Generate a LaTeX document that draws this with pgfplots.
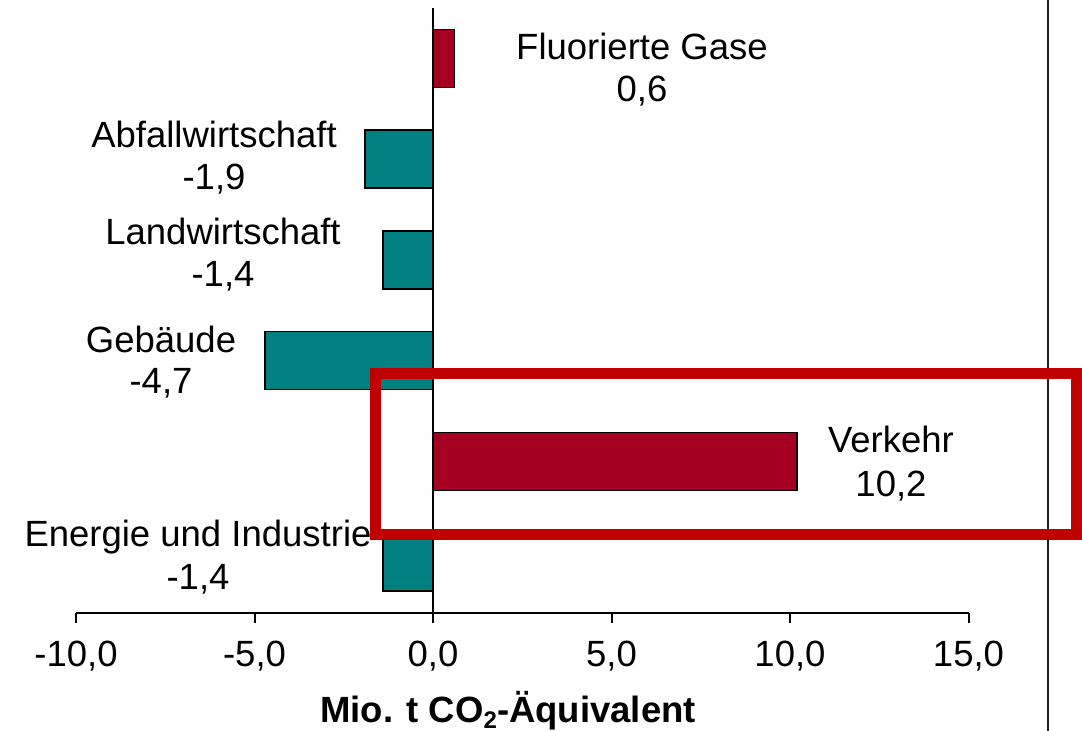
\documentclass[border=0pt]{standalone}
\usepackage{fontspec}
\setmainfont{Liberation Sans}
\usepackage{pgfplots}
\pgfplotsset{compat=1.18}
\definecolor{barteal}{RGB}{0,128,128}
\definecolor{barred}{RGB}{165,0,33}
\definecolor{boxred}{RGB}{192,0,0}
\definecolor{frameline}{RGB}{34,34,34}
\newcommand{\lbl}{\fontsize{18.25}{21}\selectfont}
\begin{document}
\begin{tikzpicture}
\begin{axis}[
  at={(38pt,-306.25pt)}, anchor=south west,
  scale only axis, width=446.25pt, height=302.25pt,
  xmin=-10, xmax=15, ymin=-0.5, ymax=5.5,
  axis x line=bottom, axis y line=none,
  axis line style={-, line width=1pt, black},
  xtick={-10,-5,0,5,10,15}, ytick=\empty,
  tick align=outside, major tick length=5pt,
  every tick/.style={black, line width=1pt},
  xticklabel={\pgfmathprintnumber[fixed,fixed zerofill,precision=1,use comma,assume math mode=true]{\tick}},
  xticklabel style={font=\lbl, anchor=base, yshift=-22pt},
  xlabel={\textbf{Mio. t CO\raisebox{-0.35ex}{\fontsize{12}{12}\selectfont 2}-Äquivalent}},
  xlabel style={font=\lbl, at={(axis description cs:0.484,0)}, anchor=base, yshift=-54.75pt},
  clip=false,
]
\addplot[xbar, bar shift=0pt, bar width=0.576, fill=barteal, draw=black, line width=0.75pt]
  coordinates {(-1.4,0) (-4.7,2) (-1.4,3) (-1.9,4)};
\addplot[xbar, bar shift=0pt, bar width=0.576, fill=barred, draw=black, line width=0.75pt]
  coordinates {(10.2,1) (0.6,5)};
\draw[line width=0.75pt] (axis cs:0,-0.5) -- (axis cs:0,5.5);
\end{axis}
\begin{scope}[x=0.5pt,y=-0.5pt]
\draw[frameline, line width=1.4pt] (1048,0) -- (1048,731);
\begin{scope}[every node/.style={font=\lbl, anchor=base, inner sep=0pt}]
\node at (642,60) {Fluorierte Gase}; \node at (642,102) {0,6};
\node at (214,148) {Abfallwirtschaft}; \node at (214,190) {-1,9};
\node at (223,245) {Landwirtschaft}; \node at (223,287) {-1,4};
\node at (161,353) {Gebäude}; \node at (161,394) {-4,7};
\node at (891,453) {Verkehr}; \node at (891,497) {10,2};
\node at (198,547) {Energie und Industrie}; \node at (198,590) {-1,4};
\end{scope}
\draw[boxred, line width=5.5pt] (375,374) rectangle (1076,535);
\end{scope}
\pgfresetboundingbox
\path[use as bounding box] (0,0) rectangle (541pt,-365.5pt);
\end{tikzpicture}
\end{document}
